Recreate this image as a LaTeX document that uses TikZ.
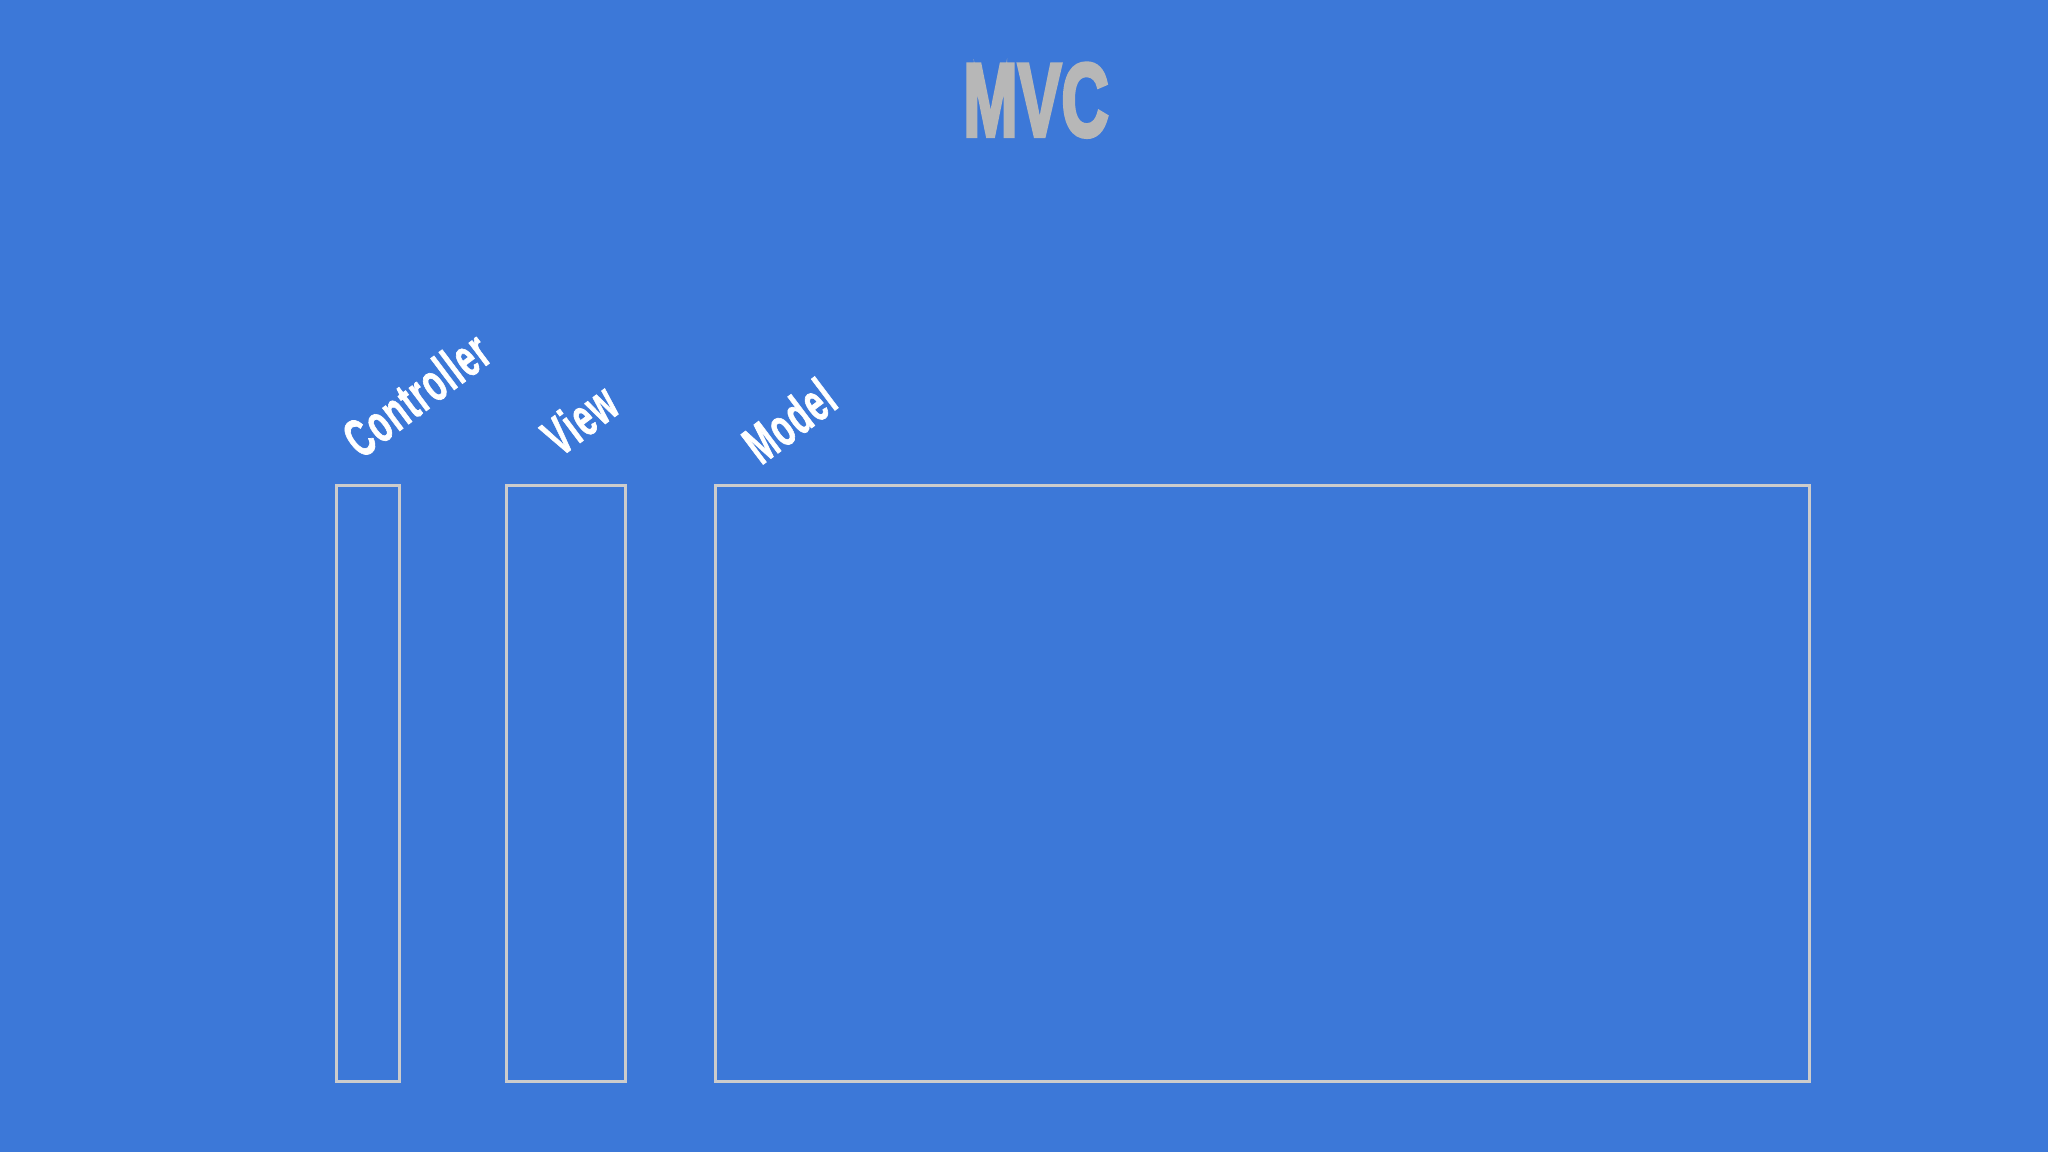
\documentclass[tikz,border=0pt]{standalone}
\usepackage{fontspec}
\usepackage{graphicx}
\newfontfamily\heavyfont{Liberation Sans}[FakeBold=4]
\newfontfamily\tagfont{Liberation Sans}[FakeBold=1.5, LetterSpace=4]
\newcommand{\narrowtext}[2]{\scalebox{#1}[1]{#2}}
\definecolor{bg}{HTML}{3C78D8}
\definecolor{boxline}{HTML}{CCCCCC}
\definecolor{titlegray}{HTML}{B7B7B7}
\begin{document}
\begin{tikzpicture}[x=0.5pt,y=-0.5pt,
  panel/.style={draw=boxline, line width=1.5pt},
  tag/.style={text=white, font=\tagfont\bfseries\fontsize{27}{30}\selectfont, anchor=base west, rotate=37, inner sep=0pt}]
\fill[bg] (0,0) rectangle (2048,1152);
\useasboundingbox (0,0) rectangle (2048,1152);
\node[text=titlegray, font=\heavyfont\bfseries\fontsize{52}{60}\selectfont, anchor=base, inner sep=0pt] (title) at (1036,136) {\narrowtext{0.63}{MVC}};
\draw[panel] (336,485) rectangle (399,1081);
\draw[panel] (506,485) rectangle (625,1081);
\draw[panel] (715,485) rectangle (1809,1081);
\node[tag] (controller) at (361,460) {\narrowtext{0.6}{Controller}};
\node[tag] (view) at (560,458) {\narrowtext{0.6}{View}};
\node[tag] (model) at (761,466) {\narrowtext{0.6}{Model}};
\end{tikzpicture}
\end{document}
